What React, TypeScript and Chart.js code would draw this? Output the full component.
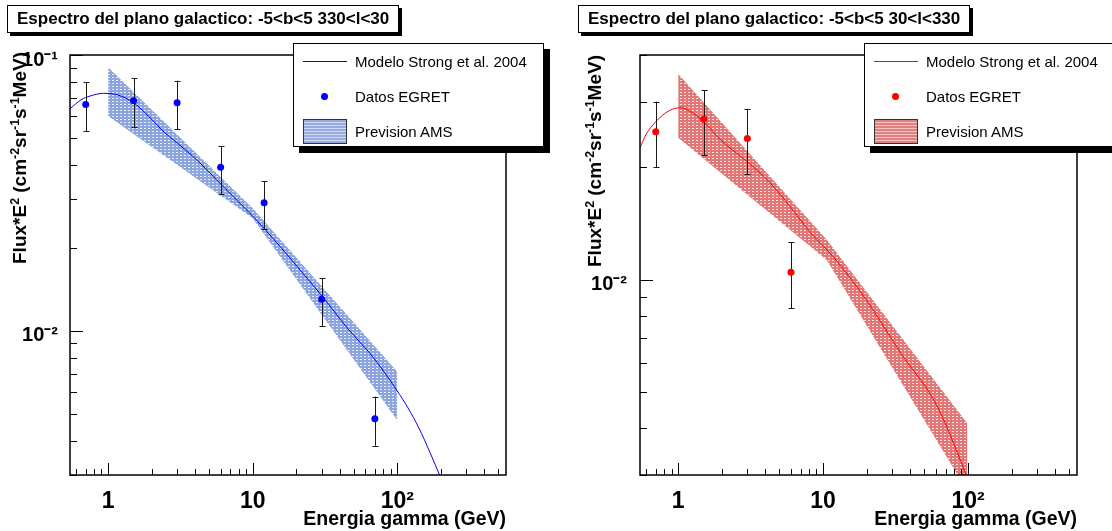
import React, { useEffect, useRef } from "react";
import { Chart, registerables } from "chart.js";
Chart.register(...registerables);

const FONT = "'Liberation Sans', Arial, Helvetica, sans-serif";

// ---------- shared x axis ----------
const X_MIN = 0.545;
const X_MAX = 565;
const X_TICKS = [0.6, 0.7, 0.8, 0.9, 1, 2, 3, 4, 5, 6, 7, 8, 9, 10, 20, 30, 40, 50, 60, 70, 80, 90, 100, 200, 300, 400, 500];
const X_MAJOR = [1, 10, 100];
const X_LABELS = ["1", "10", "10²"];

// ---------- left panel: -5<b<5 330<l<30 ----------
const L_TITLE = "Espectro del plano galactico: -5<b<5 330<l<30";
const L_Y_MIN = 0.003;
const L_Y_MAX = 0.1;
const L_Y_TICKS = [0.003, 0.004, 0.005, 0.006, 0.007, 0.008, 0.009, 0.01, 0.02, 0.03, 0.04, 0.05, 0.06, 0.07, 0.08, 0.09, 0.1];
const L_Y_MAJOR = [0.01, 0.1];
const L_Y_LABELS = ["10⁻²", "10⁻¹"];
const L_EGRET_E = [0.7, 1.5, 3, 6, 12, 30, 70];
const L_EGRET_F = [0.0662, 0.0683, 0.0671, 0.0392, 0.0291, 0.0130, 0.0048];
const L_EGRET_LO = [0.0530, 0.0547, 0.0537, 0.0313, 0.0233, 0.0104, 0.00383];
const L_EGRET_HI = [0.0798, 0.0823, 0.0807, 0.0468, 0.0349, 0.01556, 0.00577];
const L_MODEL_E = [0.545, 0.65, 0.75, 0.93, 1.17, 1.5, 2, 2.36, 3, 4, 6.27, 10.1, 15.5, 21.3, 30.4, 44.7, 68.3, 99, 120, 140, 170, 196];
const L_MODEL_F = [0.0638, 0.0688, 0.0710, 0.0726, 0.0716, 0.0671, 0.0585, 0.0534, 0.0480, 0.0422, 0.0333, 0.0259, 0.0202, 0.0166, 0.0133, 0.0103, 0.0080, 0.0061, 0.0052, 0.00448, 0.00358, 0.0030];
const L_BAND_HI_E = [1, 10, 100];
const L_BAND_HI = [0.0902, 0.0278, 0.0071];
const L_BAND_LO_E = [1, 10, 100];
const L_BAND_LO = [0.0601, 0.0256, 0.00474];

// ---------- right panel: -5<b<5 30<l<330 ----------
const R_TITLE = "Espectro del plano galactico: -5<b<5 30<l<330";
const R_Y_MIN = 0.003;
const R_Y_MAX = 0.04;
const R_Y_TICKS = [0.003, 0.004, 0.005, 0.006, 0.007, 0.008, 0.009, 0.01, 0.02, 0.03, 0.04];
const R_Y_MAJOR = [0.01];
const R_Y_LABELS = ["10⁻²"];
const R_EGRET_E = [0.7, 1.5, 3, 6];
const R_EGRET_F = [0.0249, 0.0269, 0.0239, 0.01048];
const R_EGRET_LO = [0.0200, 0.0216, 0.0192, 0.0084];
const R_EGRET_HI = [0.0300, 0.0322, 0.0287, 0.01261];
const R_MODEL_E = [0.546, 0.6, 0.7, 0.87, 1.05, 1.2, 1.5, 1.94, 3, 4.3, 6, 8.15, 11.8, 20, 34, 61, 94, 97];
const R_MODEL_F = [0.0226, 0.0245, 0.0265, 0.0284, 0.0289, 0.0283, 0.0265, 0.0238, 0.0207, 0.0182, 0.0156, 0.0134, 0.0115, 0.0088, 0.0064, 0.0046, 0.0031, 0.0030];
const R_BAND_HI_E = [1, 10.6, 99];
const R_BAND_HI = [0.0356, 0.0128, 0.00412];
const R_BAND_LO_E = [1, 10.6, 99];
const R_BAND_LO = [0.0240, 0.0113, 0.00272];

const LEGEND_TEXTS = ["Modelo Strong et al. 2004", "Datos EGRET", "Prevision AMS"];

function isIn(v: number, list: number[]) {
  return list.findIndex((m) => Math.abs(v - m) / m < 1e-6);
}

function makePattern(ctx: CanvasRenderingContext2D, base: string) {
  const c = document.createElement("canvas");
  c.width = 4;
  c.height = 3;
  const g = c.getContext("2d")!;
  g.fillStyle = base;
  g.fillRect(0, 0, 4, 3);
  g.fillStyle = "rgba(255,255,255,0.8)";
  g.fillRect(0, 2, 2, 1);
  return ctx.createPattern(c, "repeat");
}

type PanelCfg = {
  yMin: number; yMax: number; yTicks: number[]; yMajor: number[]; yLabels: string[];
  eE: number[]; eF: number[]; eLo: number[]; eHi: number[];
  mE: number[]; mF: number[];
  bHiE: number[]; bHi: number[]; bLoE: number[]; bLo: number[];
  color: string; bandBase: string;
  axisW: number; padRight: number; yPad: number;
};

function rootPlugin(cfg: PanelCfg) {
  return {
    id: "rootStyle",
    beforeDatasetDraw(chart: any, args: any) {
      if (args.index !== 0) return;
      const { ctx, chartArea: a } = chart;
      const xs = chart.scales.x;
      const ys = chart.scales.y;
      ctx.save();
      ctx.beginPath();
      ctx.rect(a.left, a.top, a.right - a.left, a.bottom - a.top);
      ctx.clip();
      ctx.strokeStyle = "#1a1a1a";
      ctx.lineWidth = 1;
      cfg.eE.forEach((e, i) => {
        const x = Math.round(xs.getPixelForValue(e)) + 0.5;
        const yl = ys.getPixelForValue(cfg.eLo[i]);
        const yh = ys.getPixelForValue(cfg.eHi[i]);
        ctx.beginPath();
        ctx.moveTo(x, yl);
        ctx.lineTo(x, yh);
        ctx.moveTo(x - 3, Math.round(yl) + 0.5);
        ctx.lineTo(x + 3, Math.round(yl) + 0.5);
        ctx.moveTo(x - 3, Math.round(yh) + 0.5);
        ctx.lineTo(x + 3, Math.round(yh) + 0.5);
        ctx.stroke();
      });
      ctx.restore();
    },
    afterDraw(chart: any) {
      const { ctx, chartArea: a } = chart;
      const xs = chart.scales.x;
      const ys = chart.scales.y;
      ctx.save();
      ctx.strokeStyle = "#000";
      ctx.lineWidth = 1;
      xs.ticks.forEach((t: any) => {
        const x = Math.round(xs.getPixelForValue(t.value)) + 0.5;
        const len = isIn(t.value, X_MAJOR) >= 0 ? 12 : 6;
        ctx.beginPath();
        ctx.moveTo(x, a.bottom);
        ctx.lineTo(x, a.bottom - len);
        ctx.stroke();
      });
      ys.ticks.forEach((t: any) => {
        const y = Math.round(ys.getPixelForValue(t.value)) + 0.5;
        const len = isIn(t.value, cfg.yMajor) >= 0 ? 13 : 7;
        ctx.beginPath();
        ctx.moveTo(a.left, y);
        ctx.lineTo(a.left + len, y);
        ctx.stroke();
      });
      ctx.lineWidth = 1.5;
      ctx.strokeRect(a.left, a.top, a.right - a.left, a.bottom - a.top);
      ctx.restore();
    },
  };
}

function ChartPanel({ cfg, left }: { cfg: PanelCfg; left: number }) {
  const ref = useRef<HTMLCanvasElement>(null);
  useEffect(() => {
    const canvas = ref.current!;
    const ctx = canvas.getContext("2d")!;
    const pattern = makePattern(ctx, cfg.bandBase);
    const pts = cfg.eE.map((e, i) => ({ x: e, y: cfg.eF[i] }));
    const model = cfg.mE.map((e, i) => ({ x: e, y: cfg.mF[i] }));
    const hi = cfg.bHiE.map((e, i) => ({ x: e, y: cfg.bHi[i] }));
    const lo = cfg.bLoE.map((e, i) => ({ x: e, y: cfg.bLo[i] }));
    const chart = new Chart(canvas, {
      type: "scatter",
      data: {
        datasets: [
          { label: "Datos EGRET", data: pts, showLine: false, pointRadius: 3.5, pointBackgroundColor: cfg.color, pointBorderWidth: 0, order: 0 } as any,
          { label: "Modelo", data: model, showLine: true, borderColor: cfg.color, borderWidth: 1, pointRadius: 0, cubicInterpolationMode: "monotone", fill: false, order: 1 } as any,
          { label: "AMS hi", data: hi, showLine: true, borderWidth: 0, borderColor: "rgba(0,0,0,0)", pointRadius: 0, backgroundColor: pattern, fill: 3, order: 2 } as any,
          { label: "AMS lo", data: lo, showLine: true, borderWidth: 0, borderColor: "rgba(0,0,0,0)", pointRadius: 0, fill: false, order: 3 } as any,
        ],
      },
      options: {
        animation: false,
        responsive: false,
        events: [],
        layout: { padding: { top: 55, right: cfg.padRight, bottom: 0, left: 0 } },
        plugins: { legend: { display: false }, tooltip: { enabled: false } },
        scales: {
          x: {
            type: "logarithmic",
            min: X_MIN,
            max: X_MAX,
            grid: { display: false },
            border: { display: false },
            afterBuildTicks: (s: any) => { s.ticks = X_TICKS.map((v) => ({ value: v })); },
            afterFit: (s: any) => { s.height = 56; },
            ticks: {
              autoSkip: false, maxRotation: 0, minRotation: 0, padding: 5, color: "#000",
              font: { family: FONT, size: 23, weight: "bold" },
              callback: (v: any) => { const k = isIn(Number(v), X_MAJOR); return k >= 0 ? X_LABELS[k] : ""; },
            },
          },
          y: {
            type: "logarithmic",
            min: cfg.yMin,
            max: cfg.yMax,
            grid: { display: false },
            border: { display: false },
            afterBuildTicks: (s: any) => { s.ticks = cfg.yTicks.map((v) => ({ value: v })); },
            afterFit: (s: any) => { s.width = cfg.axisW; },
            ticks: {
              autoSkip: false, padding: cfg.yPad, color: "#000", labelOffset: 5,
              font: { family: FONT, size: 20, weight: "bold" },
              callback: (v: any) => { const k = isIn(Number(v), cfg.yMajor); return k >= 0 ? cfg.yLabels[k] : ""; },
            },
          },
        },
      } as any,
      plugins: [rootPlugin(cfg)],
    });
    return () => chart.destroy();
  }, [cfg]);
  return <canvas ref={ref} width={556} height={531} style={{ position: "absolute", left, top: 0, width: 556, height: 531 }} />;
}

function TitleBox({ left, text }: { left: number; text: string }) {
  return (
    <div style={{ position: "absolute", left, top: 5, width: 392, height: 28, boxSizing: "border-box", border: "1px solid #000", background: "#fff", boxShadow: "3px 3px 0 #000", fontFamily: FONT, fontWeight: "bold", fontSize: 17, lineHeight: "26px", paddingLeft: 9, whiteSpace: "nowrap" }}>
      {text}
    </div>
  );
}

function LegendBox({ left, color, swatch }: { left: number; color: string; swatch: string }) {
  const txt = { position: "absolute" as const, left: 61, transform: "translateY(-50%)", whiteSpace: "nowrap" as const, lineHeight: "18px" };
  return (
    <div style={{ position: "absolute", left, top: 43, width: 251, height: 104, boxSizing: "border-box", border: "1px solid #000", background: "#fff", boxShadow: "6px 6px 0 #000", fontFamily: FONT, fontSize: 15, color: "#000" }}>
      <div style={{ position: "absolute", left: 9, top: 17, width: 44, height: 1.3, background: color }} />
      <div style={{ ...txt, top: 17.5 }}>{LEGEND_TEXTS[0]}</div>
      <div style={{ position: "absolute", left: 27, top: 49, width: 7, height: 7, borderRadius: "50%", background: color }} />
      <div style={{ ...txt, top: 52.5 }}>{LEGEND_TEXTS[1]}</div>
      <div style={{ position: "absolute", left: 9, top: 75, width: 44, height: 25, boxSizing: "border-box", border: "1px solid #333", background: `repeating-linear-gradient(to bottom, ${swatch} 0px, ${swatch} 2px, rgba(255,255,255,0.55) 2px, rgba(255,255,255,0.55) 3px)`, backgroundColor: swatch }} />
      <div style={{ ...txt, top: 88 }}>{LEGEND_TEXTS[2]}</div>
    </div>
  );
}

function YTitle({ cx, top }: { cx: number; top: number }) {
  const sup = { fontSize: "0.65em", verticalAlign: "0.55em", lineHeight: 0 };
  return (
    <div style={{ position: "absolute", left: cx, top, width: 0, height: 0 }}>
      <div style={{ position: "absolute", right: 0, top: 0, whiteSpace: "nowrap", transformOrigin: "right top", transform: "rotate(-90deg) translateY(-50%)", fontFamily: FONT, fontWeight: "bold", fontSize: 19, lineHeight: "22px" }}>
        Flux*E<span style={sup}>2</span> (cm<span style={sup}>-2</span>sr<span style={sup}>-1</span>s<span style={sup}>-1</span>MeV)
      </div>
    </div>
  );
}

function XTitle({ right }: { right: number }) {
  return (
    <div style={{ position: "absolute", left: right - 400, top: 507, width: 400, textAlign: "right", fontFamily: FONT, fontWeight: "bold", fontSize: 19.5, lineHeight: "22px", whiteSpace: "nowrap" }}>
      Energia gamma (GeV)
    </div>
  );
}

const LEFT_CFG: PanelCfg = {
  yMin: L_Y_MIN, yMax: L_Y_MAX, yTicks: L_Y_TICKS, yMajor: L_Y_MAJOR, yLabels: L_Y_LABELS,
  eE: L_EGRET_E, eF: L_EGRET_F, eLo: L_EGRET_LO, eHi: L_EGRET_HI,
  mE: L_MODEL_E, mF: L_MODEL_F,
  bHiE: L_BAND_HI_E, bHi: L_BAND_HI, bLoE: L_BAND_LO_E, bLo: L_BAND_LO,
  color: "#0000ff", bandBase: "rgb(140,165,220)",
  axisW: 70, padRight: 50, yPad: 4,
};

const RIGHT_CFG: PanelCfg = {
  yMin: R_Y_MIN, yMax: R_Y_MAX, yTicks: R_Y_TICKS, yMajor: R_Y_MAJOR, yLabels: R_Y_LABELS,
  eE: R_EGRET_E, eF: R_EGRET_F, eLo: R_EGRET_LO, eHi: R_EGRET_HI,
  mE: R_MODEL_E, mF: R_MODEL_F,
  bHiE: R_BAND_HI_E, bHi: R_BAND_HI, bLoE: R_BAND_LO_E, bLo: R_BAND_LO,
  color: "#ff0000", bandBase: "rgb(224,118,118)",
  axisW: 84, padRight: 35, yPad: 5,
};

export default function App() {
  return (
    <div style={{ position: "fixed", left: 0, top: 0, width: 1112, height: 531, overflow: "hidden", background: "#fff" }}>
      <ChartPanel cfg={LEFT_CFG} left={0} />
      <ChartPanel cfg={RIGHT_CFG} left={556} />
      <TitleBox left={7} text={L_TITLE} />
      <TitleBox left={578} text={R_TITLE} />
      <LegendBox left={293} color="#0000ff" swatch="rgb(150,172,224)" />
      <LegendBox left={864} color="#ff0000" swatch="rgb(226,128,128)" />
      <YTitle cx={20} top={52} />
      <YTitle cx={595} top={55} />
      <XTitle right={506} />
      <XTitle right={1077} />
    </div>
  );
}
